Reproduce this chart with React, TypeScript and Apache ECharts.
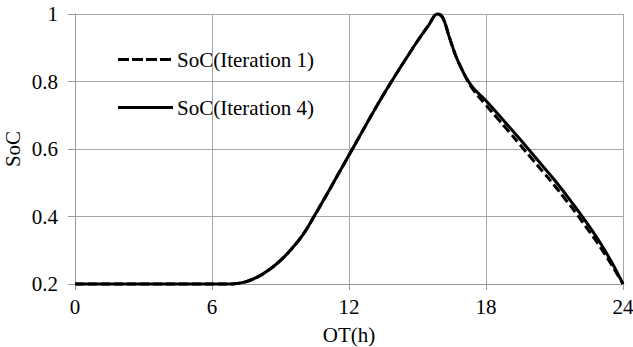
import React, { useEffect, useRef } from "react";
import * as echarts from "echarts";

const hours = [0, 3, 6, 6.5, 7, 7.5, 8, 8.5, 9, 9.5, 10, 10.5, 11, 11.5, 12, 12.5, 13, 13.5, 14, 14.5, 15, 15.5, 15.87, 16.1, 16.4, 16.7, 17, 17.25, 17.5, 18, 18.5, 19, 19.5, 20, 20.5, 21, 21.5, 22, 22.5, 23, 23.5, 24];

const socIter4 = [0.2, 0.2, 0.2, 0.2, 0.201, 0.207, 0.221, 0.242, 0.27, 0.305, 0.348, 0.404, 0.462, 0.522, 0.582, 0.642, 0.702, 0.76, 0.815, 0.868, 0.92, 0.968, 1.0, 0.99, 0.93, 0.872, 0.828, 0.798, 0.776, 0.743, 0.705, 0.667, 0.628, 0.588, 0.548, 0.508, 0.465, 0.42, 0.373, 0.322, 0.265, 0.2];

const socIter1 = [0.2, 0.2, 0.2, 0.2, 0.201, 0.207, 0.221, 0.242, 0.27, 0.305, 0.348, 0.404, 0.462, 0.522, 0.582, 0.642, 0.702, 0.76, 0.815, 0.868, 0.92, 0.968, 1.0, 0.99, 0.93, 0.872, 0.828, 0.795, 0.77, 0.73, 0.691, 0.652, 0.612, 0.572, 0.532, 0.492, 0.449, 0.405, 0.358, 0.31, 0.257, 0.2];

const seriesNames = ["SoC(Iteration 1)", "SoC(Iteration 4)"];
const xTicks = [0, 6, 12, 18, 24];
const yTicks = [0.2, 0.4, 0.6, 0.8, 1];

const FONT = "Liberation Serif";
const DASH_ICON = "path://M0,0H11V3H0Z M14,0H25V3H14Z M28,0H39V3H28Z M42,0H53V3H42Z M55,0H55V3H55Z";
const SOLID_ICON = "path://M0,0H55V3H0Z";

export default function App() {
  const ref = useRef<HTMLDivElement>(null);
  useEffect(() => {
    if (!ref.current) return;
    const chart = echarts.init(ref.current, null, { renderer: "svg" });
    const pair = (ys: number[]) => hours.map((h, i) => [h, ys[i]]);
    chart.setOption({
      animation: false,
      backgroundColor: "#fff",
      textStyle: { fontFamily: FONT },
      grid: { left: 75, right: 10, top: 14, bottom: 63, outerBoundsMode: "none", containLabel: false },
      legend: {
        orient: "vertical",
        left: 118,
        top: 49,
        padding: 0,
        itemWidth: 55,
        itemHeight: 3,
        itemGap: 27,
        data: [
          { name: seriesNames[0], icon: DASH_ICON },
          { name: seriesNames[1], icon: SOLID_ICON },
        ],
        itemStyle: { color: "#000" },
        textStyle: { fontFamily: FONT, fontSize: 21, color: "#000", padding: [0, 0, 0, -1] },
      },
      xAxis: {
        type: "value",
        min: xTicks[0],
        max: xTicks[xTicks.length - 1],
        interval: 6,
        name: "OT(h)",
        nameLocation: "middle",
        nameGap: 40,
        nameMoveOverlap: false,
        nameTextStyle: { fontFamily: FONT, fontSize: 21, color: "#000" },
        axisLine: { show: true, lineStyle: { color: "#999", width: 1 } },
        axisTick: { show: true, length: 6, lineStyle: { color: "#999" } },
        axisLabel: { fontFamily: FONT, fontSize: 21, color: "#000", margin: 12 },
        splitLine: { show: true, lineStyle: { color: "#a6a6a6", width: 1 } },
      },
      yAxis: {
        type: "value",
        min: yTicks[0],
        max: yTicks[yTicks.length - 1],
        interval: 0.2,
        name: "SoC",
        nameLocation: "middle",
        nameGap: 52,
        nameMoveOverlap: false,
        nameTextStyle: { fontFamily: FONT, fontSize: 21, color: "#000" },
        axisLine: { show: true, lineStyle: { color: "#999", width: 1 } },
        axisTick: { show: true, length: 7, lineStyle: { color: "#999" } },
        axisLabel: {
          fontFamily: FONT,
          fontSize: 21,
          color: "#000",
          margin: 17,
          formatter: (v: number) => (Math.abs(v - 1) < 1e-9 ? "1" : v.toFixed(1)),
        },
        splitLine: { show: true, lineStyle: { color: "#a6a6a6", width: 1 } },
      },
      series: [
        {
          name: seriesNames[0],
          type: "line",
          data: pair(socIter1),
          smooth: 0.4,
          showSymbol: false,
          symbol: "none",
          clip: false,
          lineStyle: { color: "#000", width: 3, type: [9, 4] },
          itemStyle: { color: "#000" },
        },
        {
          name: seriesNames[1],
          type: "line",
          data: pair(socIter4),
          smooth: 0.4,
          showSymbol: false,
          symbol: "none",
          clip: false,
          lineStyle: { color: "#000", width: 3 },
          itemStyle: { color: "#000" },
        },
      ],
    });
    return () => chart.dispose();
  }, []);
  return (
    <div
      ref={ref}
      style={{ position: "fixed", left: 0, top: 0, width: 633, height: 347 }}
    />
  );
}
